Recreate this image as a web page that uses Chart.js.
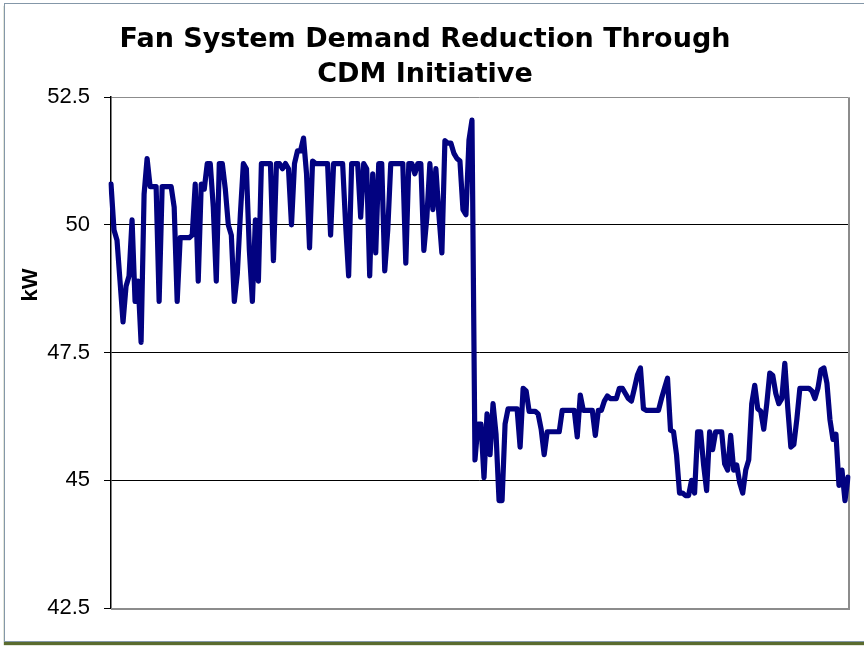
<!DOCTYPE html>
<html>
<head>
<meta charset="utf-8">
<title>Fan System Demand Reduction Through CDM Initiative</title>
<script src="https://cdn.jsdelivr.net/npm/chart.js@4/dist/chart.umd.min.js"></script>
<style>
  html, body { margin: 0; padding: 0; background: #ffffff; overflow: hidden; }
  body { width: 864px; height: 647px; position: relative; }
  #frame {
    position: absolute; left: 4px; top: 3px; width: 900px; height: 637px;
    border: 1px solid #8497a8; box-shadow: 0 3px 1px #5a6b2e;
    background: #ffffff;
  }
  #chart { position: absolute; left: 0; top: 0; }
</style>
</head>
<body>
<div id="frame"></div>
<canvas id="chart" width="864" height="647"></canvas>
<script>
// Fan demand (kW) before the CDM initiative
const kwBefore = [
  50.8, 49.9, 49.7, 48.9, 48.1, 48.8, 49.0, 50.1, 48.5, 48.9,
  47.7, 50.6, 51.3, 50.75, 50.75, 50.75, 48.5, 50.75, 50.75, 50.75,
  50.75, 50.35, 48.5, 49.75, 49.75, 49.75, 49.75, 49.8, 50.8, 48.9,
  50.8, 50.7, 51.2, 51.2, 50.35, 48.9, 51.2, 51.2, 50.7, 50.0,
  49.8, 48.5, 49.05, 50.2, 51.2, 51.1, 49.5, 48.5, 50.1, 48.9,
  51.2, 51.2, 51.2, 51.2, 49.3, 51.2, 51.2, 51.1, 51.2, 51.1,
  50.0, 51.2, 51.45, 51.45, 51.7, 51.0, 49.55, 51.25, 51.2, 51.2,
  51.2, 51.2, 51.2, 49.8, 51.2, 51.2, 51.2, 51.2, 50.0, 49.0,
  51.2, 51.2, 51.2, 50.15, 51.2, 51.1, 49.0, 51.0, 49.45, 51.2,
  51.2, 49.1, 49.9, 51.2, 51.2, 51.2, 51.2, 51.2, 49.25, 51.2,
  51.2, 51.0, 51.2, 51.2, 49.5, 50.15, 51.2, 50.3, 51.1, 50.2,
  49.45, 51.65, 51.6, 51.6, 51.4, 51.3, 51.25, 50.3, 50.2, 51.66,
  52.05
];

// Fan demand (kW) after the CDM initiative
const kwAfter = [
  45.4, 46.1, 46.1, 45.05, 46.3, 45.5, 46.5, 45.9, 44.6, 44.6,
  46.1, 46.4, 46.4, 46.4, 46.4, 45.65, 46.8, 46.75, 46.35, 46.35,
  46.35, 46.3, 46.0, 45.5, 45.95, 45.95, 45.95, 45.95, 45.95, 46.37,
  46.37, 46.37, 46.37, 46.37, 45.85, 46.67, 46.37, 46.37, 46.37, 46.37,
  45.88, 46.37, 46.37, 46.55, 46.65, 46.6, 46.6, 46.6, 46.8, 46.8,
  46.7, 46.6, 46.55, 46.8, 47.06, 47.2, 46.4, 46.37, 46.37, 46.37,
  46.37, 46.37, 46.6, 46.8, 47.0, 45.98, 45.95, 45.5, 44.75, 44.75,
  44.7, 44.7, 45.0, 44.75, 45.95, 45.95, 45.3, 44.8, 45.95, 45.6,
  45.95, 45.95, 45.95, 45.32, 45.2, 45.88, 45.2, 45.3, 44.95, 44.75,
  45.2, 45.4, 46.5, 46.86, 46.4, 46.35, 46.0, 46.5, 47.1, 47.05,
  46.7, 46.5, 46.6, 47.29, 46.4, 45.65, 45.7, 46.2, 46.8, 46.8,
  46.8, 46.8, 46.75, 46.6, 46.8, 47.16, 47.2, 46.9, 46.19, 45.8,
  45.9, 44.9, 45.2, 44.6, 45.06
];

const yTickValues = [42.5, 45, 47.5, 50, 52.5];
const titleLines = ['Fan System Demand Reduction Through', 'CDM Initiative'];
const yAxisTitle = 'kW';

const kwSeries = kwBefore.concat(kwAfter);
const sampleLabels = kwSeries.map((_, i) => String(i + 1));

// Gray plot-area outline on the right and bottom edges
const plotFrame = {
  id: 'plotFrame',
  beforeDatasetsDraw(chart) {
    const { ctx, chartArea: a } = chart;
    ctx.save();
    ctx.strokeStyle = '#8c8c8c';
    ctx.lineWidth = 2;
    ctx.beginPath();
    ctx.moveTo(a.left, a.bottom + 1);
    ctx.lineTo(a.right + 1, a.bottom + 1);
    ctx.lineTo(a.right + 1, a.top);
    ctx.stroke();
    ctx.restore();
  }
};

// Rotated unit label beside the value axis
const axisUnit = {
  id: 'axisUnit',
  afterDraw(chart) {
    const { ctx } = chart;
    ctx.save();
    ctx.translate(31, 285);
    ctx.rotate(-Math.PI / 2);
    ctx.font = 'bold 22px "Liberation Sans", Arial, sans-serif';
    ctx.fillStyle = '#000000';
    ctx.textAlign = 'center';
    ctx.textBaseline = 'middle';
    ctx.fillText(yAxisTitle, 0, 0);
    ctx.restore();
  }
};

new Chart(document.getElementById('chart'), {
  type: 'line',
  data: {
    labels: sampleLabels,
    datasets: [{
      label: 'Fan demand',
      data: kwSeries,
      borderColor: '#020280',
      borderWidth: 5.2,
      borderJoinStyle: 'round',
      borderCapStyle: 'round',
      pointRadius: 0,
      tension: 0,
      fill: false
    }]
  },
  options: {
    responsive: false,
    animation: false,
    devicePixelRatio: 1,
    layout: { padding: { left: 2, right: 16, top: 0, bottom: 39 } },
    plugins: {
      legend: { display: false },
      tooltip: { enabled: false },
      title: {
        display: true,
        text: titleLines,
        color: '#000000',
        font: { family: '"DejaVu Sans", sans-serif', size: 27, weight: 'bold', lineHeight: 1.3 },
        padding: { top: 22, bottom: 5 }
      }
    },
    scales: {
      x: {
        type: 'category',
        display: false,
        offset: false
      },
      y: {
        min: 42.5,
        max: 52.5,
        afterBuildTicks(scale) { scale.ticks = yTickValues.map(v => ({ value: v })); },
        afterFit(scale) { scale.width = 109; },
        ticks: {
          color: '#000000',
          padding: 14,
          font: { family: '"Liberation Sans", Arial, sans-serif', size: 22 },
          callback: v => String(v)
        },
        grid: {
          color: c => (c.tick && (c.tick.value === 42.5 || c.tick.value === 52.5)) ? '#8c8c8c' : '#000000',
          lineWidth: 1,
          tickLength: 7,
          tickColor: '#000000'
        },
        border: { color: '#000000', width: 1.5 }
      }
    }
  },
  plugins: [plotFrame, axisUnit]
});
</script>
</body>
</html>
